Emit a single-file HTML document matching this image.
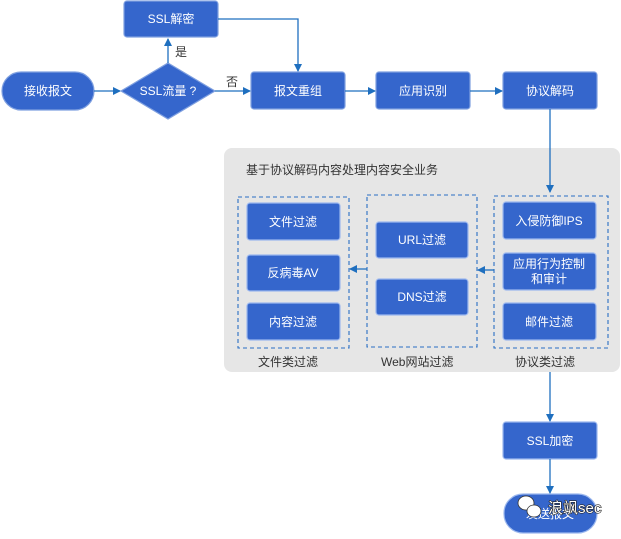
<!DOCTYPE html>
<html><head><meta charset="utf-8"><style>
body{margin:0;width:621px;height:534px;background:#fff;overflow:hidden;font-family:"Liberation Sans","Noto Sans CJK SC",sans-serif;}
</style></head><body>
<svg width="621" height="534" xmlns="http://www.w3.org/2000/svg" font-family="Liberation Sans, Noto Sans CJK SC, sans-serif">
<defs><marker id="a" markerWidth="8" markerHeight="8" refX="7" refY="4" orient="auto" markerUnits="userSpaceOnUse"><path d="M0,0 L8,4 L0,8 Z" fill="#1f6fbf"/></marker></defs>
<g fill="#3566cc" stroke="#fff" stroke-width="1.2">
<rect x="124" y="1" width="94" height="36" rx="3" stroke="#7fa0e0"/>
<rect x="2" y="72" width="92" height="38" rx="19" stroke="#7fa0e0"/>
<path d="M168,63 L215,91 L168,119 L121,91 Z" stroke="#7fa0e0"/>
<rect x="251" y="72" width="94" height="37" rx="3" stroke="#7fa0e0"/>
<rect x="376" y="72" width="94" height="37" rx="3" stroke="#7fa0e0"/>
<rect x="503" y="72" width="94" height="37" rx="3" stroke="#7fa0e0"/>
</g>
<rect x="224" y="148" width="396" height="224" rx="8" fill="#e6e6e6"/>
<g fill="none" stroke="#2a6fc4" stroke-dasharray="4,3" stroke-width="1.1">
<rect x="238" y="197" width="111" height="151"/>
<rect x="367" y="195" width="110" height="152"/>
<rect x="494" y="196" width="114" height="152"/>
</g>
<g fill="#3566cc" stroke="#9cb8ee" stroke-width="1.2">
<rect x="247" y="203" width="93" height="37" rx="3"/>
<rect x="247" y="255" width="93" height="36" rx="3"/>
<rect x="247" y="303" width="93" height="37" rx="3"/>
<rect x="376" y="222" width="92" height="36" rx="3"/>
<rect x="376" y="279" width="92" height="36" rx="3"/>
<rect x="503" y="202" width="93" height="37" rx="3"/>
<rect x="503" y="253" width="93" height="37" rx="3"/>
<rect x="503" y="303" width="93" height="37" rx="3"/>
<rect x="503" y="422" width="94" height="37" rx="3"/>
<rect x="504" y="494" width="93" height="39" rx="19"/>
</g>
<g stroke="#1f6fbf" stroke-width="1.3" fill="none" marker-end="url(#a)">
<path d="M94,91 L120,91"/>
<path d="M215,91 L250,91"/>
<path d="M168,63 L168,39"/>
<path d="M218,19 L298,19 L298,71"/>
<path d="M345,91 L375,91"/>
<path d="M470,91 L502,91"/>
<path d="M550,109 L550,192"/>
<path d="M494,270 L478,270"/>
<path d="M367,269 L350,269"/>
<path d="M550,372 L550,421"/>
<path d="M550,459 L550,493"/>
</g>
<g fill="#fff" font-size="12" text-anchor="middle">
<text x="171" y="23">SSL解密</text>
<text x="48" y="95">接收报文</text>
<text x="168" y="95">SSL流量 ?</text>
<text x="298" y="95">报文重组</text>
<text x="423" y="95">应用识别</text>
<text x="550" y="95">协议解码</text>
<text x="293" y="226">文件过滤</text>
<text x="293" y="277">反病毒AV</text>
<text x="293" y="326">内容过滤</text>
<text x="422" y="244">URL过滤</text>
<text x="422" y="301">DNS过滤</text>
<text x="549" y="225">入侵防御IPS</text>
<text x="549" y="268">应用行为控制</text>
<text x="549" y="283">和审计</text>
<text x="549" y="326">邮件过滤</text>
<text x="550" y="445">SSL加密</text>
<text x="550" y="518">发送报文</text>
</g>
<g fill="#333" font-size="12">
<text x="175" y="56">是</text>
<text x="226" y="86">否</text>
<text x="246" y="174">基于协议解码内容处理内容安全业务</text>
<text x="258" y="366">文件类过滤</text>
<text x="381" y="366">Web网站过滤</text>
<text x="515" y="366">协议类过滤</text>
</g>
<g fill="#fff" stroke="#333" stroke-width="0.8">
<ellipse cx="526" cy="503" rx="8" ry="7"/>
<ellipse cx="534" cy="511" rx="7" ry="6"/>
</g>
<text x="548" y="513" fill="#fff" font-size="15" stroke="#222" stroke-width="1.2" paint-order="stroke">浪飒sec</text>
</svg>
</body></html>
